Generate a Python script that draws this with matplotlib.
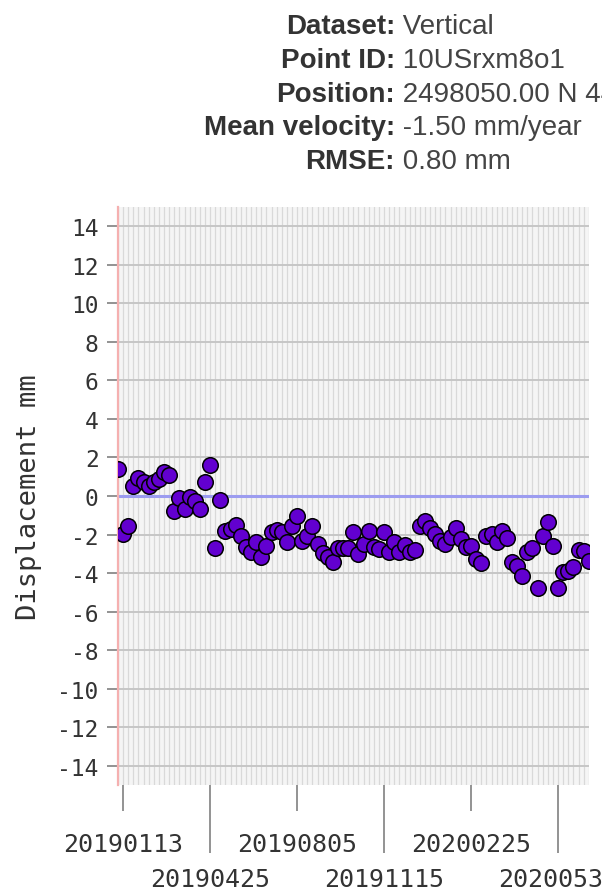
# Displacement time series for one point (vertical dataset)
import matplotlib.pyplot as plt
import numpy as np

plt.rcParams['axes.unicode_minus'] = False

# acquisition dates, one per point
dates = [
    '20190107', '20190113', '20190119', '20190125', '20190131', '20190206',
    '20190212', '20190218', '20190224', '20190302', '20190308', '20190314',
    '20190320', '20190326', '20190401', '20190407', '20190413', '20190419',
    '20190425', '20190501', '20190507', '20190513', '20190519', '20190525',
    '20190531', '20190606', '20190612', '20190618', '20190624', '20190630',
    '20190706', '20190712', '20190718', '20190724', '20190730', '20190805',
    '20190811', '20190817', '20190823', '20190829', '20190904', '20190910',
    '20190916', '20190922', '20190928', '20191004', '20191010', '20191016',
    '20191022', '20191028', '20191103', '20191109', '20191115', '20191121',
    '20191127', '20191203', '20191209', '20191215', '20191221', '20191227',
    '20200102', '20200108', '20200114', '20200120', '20200126', '20200201',
    '20200207', '20200213', '20200219', '20200225', '20200302', '20200308',
    '20200314', '20200320', '20200326', '20200401', '20200407', '20200413',
    '20200419', '20200425', '20200501', '20200507', '20200513', '20200519',
    '20200525', '20200528', '20200531', '20200606', '20200612', '20200618',
    '20200624', '20200630', '20200706',
]

# displacement in mm
displacement = [
    1.40, -1.97, -1.56, 0.52, 0.93, 0.73, 0.52, 0.73, 0.88, 1.25,
    1.09, -0.78, -0.10, -0.68, -0.05, -0.26, -0.68, 0.73, 1.61, -2.70,
    -0.20, -1.82, -1.72, -1.50, -2.08, -2.65, -2.91, -2.39, -3.17, -2.60,
    -1.87, -1.77, -1.87, -2.39, -1.56, -1.04, -2.33, -2.08, -1.56, -2.50,
    -2.96, -3.17, -3.43, -2.70, -2.70, -2.70, -1.87, -3.01, -2.50, -1.82,
    -2.65, -2.75, -1.87, -2.91, -2.39, -2.91, -2.55, -2.91, -2.80, -1.56,
    -1.30, -1.66, -1.97, -2.33, -2.50, -2.13, -1.66, -2.23, -2.65, -2.60,
    -3.27, -3.48, -2.08, -1.97, -2.39, -1.82, -2.18, -3.43, -3.63, -4.15,
    -2.91, -2.70, -4.78, -2.08, -1.35, -2.60, -4.78, -3.95, -3.90, -3.68,
    -2.80, -2.85, -3.38,
]

# labelled dates: first row / second row
top_labels = ['20190113', '20190805', '20200225']
bottom_labels = ['20190425', '20191115', '20200531']

header_keys = ['Dataset:', 'Point ID:', 'Position:', 'Mean velocity:', 'RMSE:']
header_values = ['Vertical', '10USrxm8o1', '2498050.00 N 4491250.00 E',
                 '-1.50 mm/year', '0.80 mm']


def plot_series():
    fig = plt.figure(figsize=(6.02, 8.95), dpi=100)
    ax = fig.add_axes([0.196, 0.1218, 0.782, 0.6458])
    ax.set_facecolor('#f5f5f5')

    x = np.arange(len(dates))

    # one faint vertical line per acquisition
    for xi in x:
        ax.axvline(xi, color='#d9d9d9', lw=0.9, zorder=0)
    for yv in range(-14, 15, 2):
        ax.axhline(yv, color='#c6c6c6', lw=1.4, zorder=1)
    ax.axhline(0, color='#9c9cf0', lw=2.2, zorder=2)

    ax.scatter(x, displacement, s=125, color='#6200d0', edgecolors='black',
               linewidths=1.1, zorder=3)

    ax.set_xlim(0, 92)
    ax.set_ylim(-15, 15)
    ax.set_yticks(range(-14, 15, 2))

    for side in ['top', 'right', 'bottom']:
        ax.spines[side].set_visible(False)
    ax.spines['left'].set_color('#f5b0b0')
    ax.spines['left'].set_linewidth(1.6)

    mono = 'DejaVu Sans Mono'
    ax.set_xticks([dates.index(d) for d in top_labels])
    ax.set_xticklabels(top_labels, fontfamily=mono, fontsize=18, color='#333333')
    ax.set_xticks([dates.index(d) for d in bottom_labels], minor=True)
    ax.set_xticklabels(bottom_labels, minor=True, fontfamily=mono,
                       fontsize=18, color='#333333')
    ax.tick_params(axis='x', which='major', length=19, width=1.3,
                   color='#8a8a8a', pad=15)
    ax.tick_params(axis='x', which='minor', length=49, width=1.3,
                   color='#8a8a8a', pad=10)
    ax.tick_params(axis='y', length=8, width=1.3, color='#8a8a8a', pad=6,
                   labelsize=16.5, labelcolor='#333333')
    for lab in ax.get_yticklabels():
        lab.set_fontfamily(mono)

    ax.set_ylabel('Displacement mm', fontfamily=mono, fontsize=19.5,
                  color='#333333', labelpad=11)

    # header lines, keys right-aligned at the colon
    y_pos = [27, 61, 95, 128, 162]
    for key, val, yp in zip(header_keys, header_values, y_pos):
        fy = 1 - yp / 895
        fig.text(0.656, fy, key, ha='right', va='center', fontsize=20,
                 fontweight='bold', fontfamily='Liberation Sans', color='#333333')
        fig.text(0.656, fy, ' ' + val, ha='left', va='center', fontsize=20,
                 fontfamily='Liberation Sans', color='#444444')

    fig.savefig('out.png', dpi=100)


if __name__ == "__main__":
    plot_series()
